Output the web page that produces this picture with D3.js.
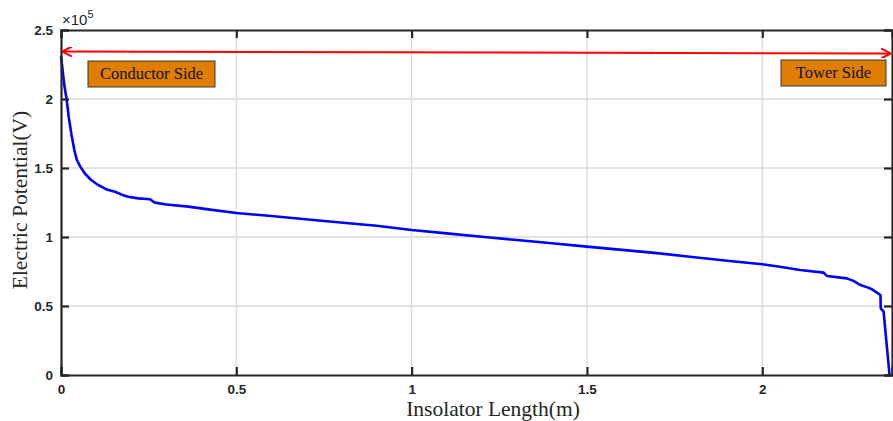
<!DOCTYPE html>
<html>
<head>
<meta charset="utf-8">
<script src="https://cdn.jsdelivr.net/npm/d3@7"></script>
<style>
  body { margin: 0; background: #fff; }
  svg { display: block; }
</style>
</head>
<body>
<svg id="chart" width="893" height="421"></svg>
<script>
// Insulator length (m) and electric potential (V)
let lengthM = [0, 0.005, 0.01, 0.016, 0.022, 0.03, 0.038, 0.045, 0.055, 0.068, 0.085, 0.106, 0.13, 0.154, 0.175, 0.192, 0.22, 0.254, 0.262, 0.268, 0.3, 0.363, 0.42,
    0.5, 0.6, 0.75, 0.9, 1.0, 1.1, 1.2, 1.3, 1.4, 1.5, 1.6, 1.7, 1.8, 1.9, 2.0, 2.05, 2.108, 2.175, 2.185, 2.241, 2.26, 2.28, 2.3, 2.313, 2.337, 2.338, 2.346, 2.363];
let potential = [231000, 220000, 209000, 200000, 187000, 174000, 163000, 156000, 151000, 146000, 141500, 137700, 134500, 132800, 130500, 129200, 128000, 127300, 125800, 124900, 123500, 122000, 120000,
    117400, 115200, 111600, 108200, 105100, 102600, 100200, 97800, 95500, 93000, 90700, 88300, 85500, 82800, 80200, 78400, 76100, 74200, 71700, 70000, 68200, 65200, 63500, 62100, 58000, 48300, 45900, 0];

let xTicks = [0, 0.5, 1, 1.5, 2];
let yTicks = [0, 50000, 100000, 150000, 200000, 250000];
let xDomain = [0, 2.37];
let yDomain = [0, 250000];

let svg = d3.select("#chart");

let margin = { top: 30, right: 1, bottom: 46, left: 61 };
let plotWidth = 893 - margin.left - margin.right;
let plotHeight = 421 - margin.top - margin.bottom;

let xScale = d3.scaleLinear().domain(xDomain).range([0, plotWidth]);
let yScale = d3.scaleLinear().domain(yDomain).range([plotHeight, 0]);

let plot = svg.append("g").attr("transform", "translate(" + margin.left + "," + margin.top + ")");

// grid
plot.append("g").selectAll("line")
    .data(xTicks.filter(d => d > 0))
    .join("line")
    .attr("x1", d => xScale(d)).attr("x2", d => xScale(d))
    .attr("y1", 0).attr("y2", plotHeight)
    .attr("stroke", "#d9d9d9").attr("stroke-width", 1.3);
plot.append("g").selectAll("line")
    .data(yTicks.filter(d => d > 0 && d < 250000))
    .join("line")
    .attr("x1", 0).attr("x2", plotWidth)
    .attr("y1", d => yScale(d)).attr("y2", d => yScale(d))
    .attr("stroke", "#d9d9d9").attr("stroke-width", 1.3);

// curve
let lineFunction = d3.line()
    .x((d, i) => xScale(lengthM[i]))
    .y(d => yScale(d));

plot.append("path")
    .attr("d", lineFunction(potential))
    .attr("fill", "none")
    .attr("stroke", "#0000ff")
    .attr("stroke-width", 2.6)
    .attr("stroke-linejoin", "round");

// axes (inward ticks, box)
let tickFont = g => g.selectAll("text")
    .style("font-family", "Arial, 'Liberation Sans', sans-serif")
    .style("font-weight", "bold")
    .style("font-size", "13.5px")
    .attr("fill", "#262626");

let xAxis = d3.axisBottom(xScale).tickValues(xTicks).tickSize(-8).tickPadding(9).tickFormat(d3.format("~g"));
let yAxis = d3.axisLeft(yScale).tickValues(yTicks).tickSize(-8).tickPadding(8).tickFormat(d => d3.format("~g")(d / 1e5));

let xGroup = plot.append("g").attr("transform", "translate(0," + plotHeight + ")").call(xAxis).call(tickFont);
let yGroup = plot.append("g").call(yAxis).call(tickFont);
let topGroup = plot.append("g").call(d3.axisTop(xScale).tickValues(xTicks).tickSize(-8).tickFormat(""));
let rightGroup = plot.append("g").attr("transform", "translate(" + plotWidth + ",0)")
    .call(d3.axisRight(yScale).tickValues(yTicks).tickSize(-8).tickFormat(""));

[xGroup, yGroup, topGroup, rightGroup].forEach(g => {
    g.select(".domain").attr("stroke", "#262626").attr("stroke-width", 2.2);
    g.selectAll(".tick line").attr("stroke", "#262626").attr("stroke-width", 2.2);
});

// exponent label
let expText = svg.append("text")
    .attr("x", margin.left + 1)
    .attr("y", 25)
    .style("font-family", "Arial, 'Liberation Sans', sans-serif")
    .style("font-size", "15px")
    .attr("fill", "#262626");
expText.append("tspan").text("\u00d710");
expText.append("tspan").text("5").attr("dy", -7).style("font-size", "11px");

// double arrow
let defs = svg.append("defs");
defs.append("marker")
    .attr("id", "arrowEnd")
    .attr("viewBox", "0 0 10 10")
    .attr("refX", 10).attr("refY", 5)
    .attr("markerWidth", 5).attr("markerHeight", 5)
    .attr("orient", "auto-start-reverse")
    .append("path")
    .attr("d", "M0,0 L10,5 L0,10")
    .attr("fill", "none")
    .attr("stroke", "#ff0000")
    .attr("stroke-width", 2);

svg.append("line")
    .attr("x1", 62).attr("y1", 51.5)
    .attr("x2", 891).attr("y2", 53.5)
    .attr("stroke", "#ff0000")
    .attr("stroke-width", 2)
    .attr("marker-start", "url(#arrowEnd)")
    .attr("marker-end", "url(#arrowEnd)");

// annotation boxes
let boxes = [
    { label: "Conductor Side", x: 88, y: 61, w: 127, h: 26 },
    { label: "Tower Side", x: 781, y: 60, w: 105, h: 26 }
];
boxes.forEach(b => {
    svg.append("rect")
        .attr("x", b.x).attr("y", b.y)
        .attr("width", b.w).attr("height", b.h)
        .attr("fill", "#df7e00")
        .attr("stroke", "#3a3a3a")
        .attr("stroke-width", 1);
    svg.append("text")
        .text(b.label)
        .attr("x", b.x + b.w / 2)
        .attr("y", b.y + 18)
        .attr("text-anchor", "middle")
        .style("font-family", "'Liberation Serif', 'Times New Roman', serif")
        .style("font-size", "16.5px")
        .attr("fill", "#111");
});

// axis titles
svg.append("text")
    .text("Insolator Length(m)")
    .attr("x", 493)
    .attr("y", 416)
    .attr("text-anchor", "middle")
    .style("font-family", "'Liberation Serif', 'Times New Roman', serif")
    .style("font-size", "21.5px")
    .attr("fill", "#262626");

svg.append("text")
    .text("Electric Potential(V)")
    .attr("transform", "translate(27,200) rotate(-90)")
    .attr("text-anchor", "middle")
    .style("font-family", "'Liberation Serif', 'Times New Roman', serif")
    .style("font-size", "21.5px")
    .attr("fill", "#262626");
</script>
</body>
</html>
